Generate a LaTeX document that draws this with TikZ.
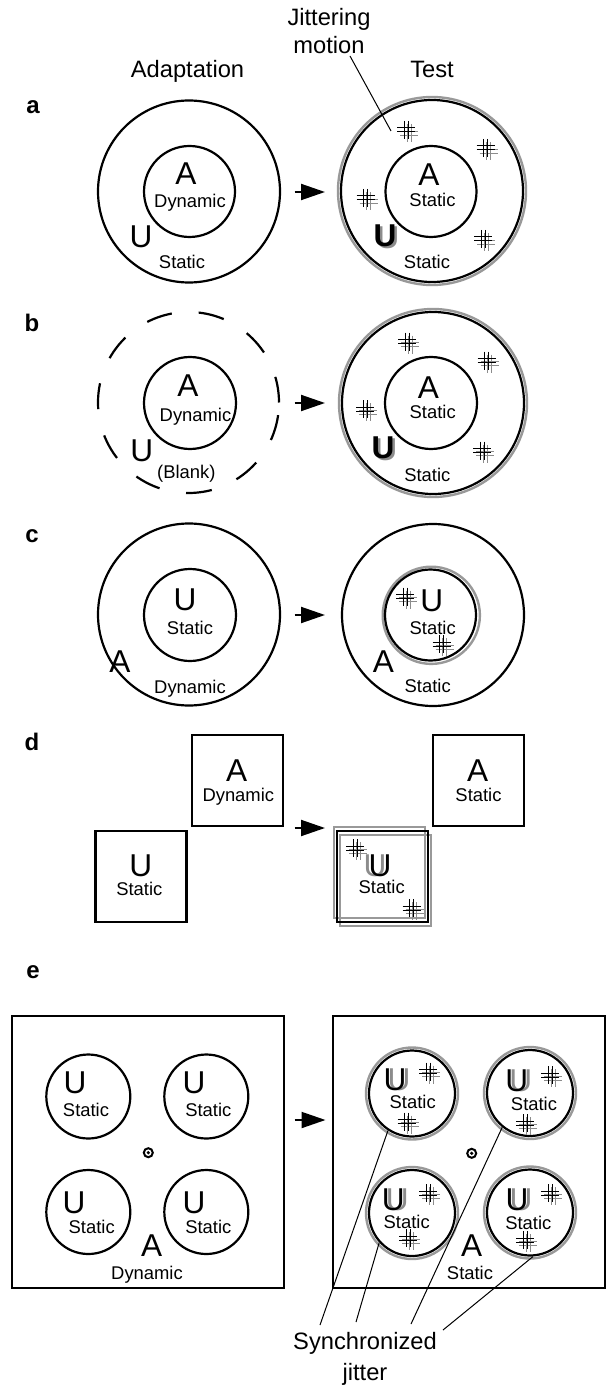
\documentclass[tikz,border=0pt]{standalone}
\usepackage{fontspec}
\setmainfont{Liberation Sans}
\usetikzlibrary{arrows.meta}

\begin{document}
\begin{tikzpicture}[
        x=0.5pt, y=-0.5pt,
        ring/.style={draw, circle, line width=1.1pt, inner sep=0pt},
        grayring/.style={draw=black!40, circle, line width=1.2pt, inner sep=0pt},
        jitter/.pic={
            \draw[black!45, line width=0.45pt] (-6,1) -- (12,1) (-6,5) -- (12,5) (1,-6) -- (1,12) (5,-6) -- (5,12);
            \draw[line width=0.5pt] (-9,-2) -- (9,-2) (-9,2) -- (9,2) (-2,-9) -- (-2,9) (2,-9) -- (2,9);
        }
        ]
    % Define styles
    \tikzstyle{dashring} = [draw, circle, line width=1.1pt, inner sep=0pt, dash pattern=on 13pt off 13.5pt]
    \tikzstyle{sqbox} = [draw, rectangle, line width=1.1pt, inner sep=0pt]
    \tikzstyle{graybox} = [draw=black!40, rectangle, line width=1.1pt, inner sep=0pt]
    \tikzstyle{headtxt} = [anchor=base, inner sep=0pt, font=\fontsize{11.85}{14}\selectfont]
    \tikzstyle{bigtxt} = [anchor=base, inner sep=0pt, font=\fontsize{15.8}{18}\selectfont]
    \tikzstyle{boldtxt} = [anchor=base, inner sep=0pt, font=\fontsize{15.8}{18}\selectfont\bfseries]
    \tikzstyle{smalltxt} = [anchor=base, inner sep=0pt, font=\fontsize{9.2}{11}\selectfont]
    \tikzstyle{panellbl} = [anchor=base, inner sep=0pt, font=\fontsize{12}{14}\selectfont\bfseries]
    \tikzstyle{thinline} = [line width=0.5pt]
    \tikzstyle{bigarrow} = [line width=1pt, -{Triangle[length=12pt, width=8pt]}]

    \useasboundingbox (0,0) rectangle (606,1385);

    % Define header nodes
    \node[headtxt] (jit1) at (329,25.5) {Jittering};
    \node[headtxt] (jit2) at (329,53.5) {motion};
    \node[headtxt] (adapt) at (187.5,77.7) {Adaptation};
    \node[headtxt] (test) at (432,77.7) {Test};

    % Define panel labels
    \node[panellbl] (la) at (33,113.3) {a};
    \node[panellbl] (lb) at (32,331.7) {b};
    \node[panellbl] (lc) at (32,542.7) {c};
    \node[panellbl] (ld) at (32,750.7) {d};
    \node[panellbl] (le) at (33,978.3) {e};

    % Panel a
    \node[ring, minimum size=91pt] (aLout) at (189,191.5) {};
    \node[ring, minimum size=45.5pt] (aLin) at (189.5,191.5) {};
    \node[bigtxt] (aLA) at (186,185) {A};
    \node[smalltxt] (aLdyn) at (190,207.3) {Dynamic};
    \node[bigtxt] (aLU) at (141,247.5) {U};
    \node[smalltxt] (aLsta) at (182,268.7) {Static};

    \node[grayring, minimum size=94pt] (aRoutg) at (432,191) {};
    \node[ring, minimum size=91pt] (aRout) at (432,191) {};
    \node[ring, minimum size=45.5pt] (aRin) at (431,191.5) {};
    \node[bigtxt] (aRA) at (429,186) {A};
    \node[smalltxt] (aRsta1) at (432.5,206.7) {Static};
    \node[boldtxt, text=black!45] (aRUg) at (387.5,249) {U};
    \node[boldtxt] (aRU) at (385,247) {U};
    \node[smalltxt] (aRsta2) at (427,268.3) {Static};
    \pic at (406,130) {jitter};
    \pic at (485.7,148) {jitter};
    \pic at (365.7,198) {jitter};
    \pic at (483,239) {jitter};

    \coordinate (jstart) at (350,56);
    \coordinate (jend) at (391,131);
    \draw[thinline] (jstart) -- (jend);

    \coordinate (aT) at (294.5,192);
    \coordinate (aH) at (325,192);
    \draw[bigarrow] (aT) -- (aH);

    % Panel b
    \node[dashring, minimum size=90.5pt] (bLout) at (188.5,402.5) {};
    \node[ring, minimum size=46pt] (bLin) at (190,403) {};
    \node[bigtxt] (bLA) at (188,396.7) {A};
    \node[smalltxt] (bLdyn) at (195.5,421.7) {Dynamic};
    \node[bigtxt] (bLU) at (141.7,461.7) {U};
    \node[smalltxt] (bLblank) at (186.3,478.7) {(Blank)};

    \node[grayring, minimum size=94pt] (bRoutg) at (433,403) {};
    \node[ring, minimum size=91pt] (bRout) at (433,403) {};
    \node[ring, minimum size=46pt] (bRin) at (431,403) {};
    \node[bigtxt] (bRA) at (428.3,398) {A};
    \node[smalltxt] (bRsta1) at (432.7,418.3) {Static};
    \node[boldtxt, text=black!45] (bRUg) at (385.5,460) {U};
    \node[boldtxt] (bRU) at (383,458) {U};
    \node[smalltxt] (bRsta2) at (427.3,481) {Static};
    \pic at (407.3,341.7) {jitter};
    \pic at (486.7,360.7) {jitter};
    \pic at (365,409.3) {jitter};
    \pic at (482.3,450.7) {jitter};

    \coordinate (bT) at (294.5,403);
    \coordinate (bH) at (325,403);
    \draw[bigarrow] (bT) -- (bH);

    % Panel c
    \node[ring, minimum size=91pt] (cLout) at (189,614.5) {};
    \node[ring, minimum size=46pt] (cLin) at (190,615) {};
    \node[bigtxt] (cLU) at (185,610) {U};
    \node[smalltxt] (cLsta) at (190,634) {Static};
    \node[bigtxt] (cLA) at (120,672) {A};
    \node[smalltxt] (cLdyn) at (190,693) {Dynamic};

    \node[ring, minimum size=91pt] (cRout) at (433,615) {};
    \node[grayring, minimum size=48.6pt] (cRing) at (431.3,615.3) {};
    \node[ring, minimum size=45.5pt] (cRin) at (430.5,615) {};
    \node[bigtxt] (cRU) at (431.7,611.7) {U};
    \node[smalltxt] (cRsta1) at (432.7,634.3) {Static};
    \node[bigtxt] (cRA) at (383.3,672.7) {A};
    \node[smalltxt] (cRsta2) at (427.7,692.7) {Static};
    \pic at (405,596.7) {jitter};
    \pic at (441.7,644) {jitter};

    \coordinate (cT) at (294.5,615);
    \coordinate (cH) at (325,615);
    \draw[bigarrow] (cT) -- (cH);

    % Panel d
    \node[sqbox, minimum size=45.5pt] (dLa) at (237.5,780.5) {};
    \node[bigtxt] (dLA) at (236.7,781.7) {A};
    \node[smalltxt] (dLdyn) at (238.3,801.7) {Dynamic};
    \node[sqbox, minimum size=45.5pt] (dLu) at (141,876.5) {};
    \node[bigtxt] (dLU) at (140.7,876.7) {U};
    \node[smalltxt] (dLsta) at (139.3,895) {Static};

    \node[sqbox, minimum size=45.5pt] (dRa) at (478.5,780.5) {};
    \node[bigtxt] (dRA) at (477.7,781.7) {A};
    \node[smalltxt] (dRsta1) at (478.5,801.7) {Static};
    \node[graybox, minimum size=45.5pt] (dRug1) at (379.5,872.5) {};
    \node[graybox, minimum size=45.5pt] (dRug2) at (385.5,880.5) {};
    \node[sqbox, minimum size=45.5pt] (dRu) at (382.5,876.5) {};
    \node[bigtxt, text=black!45] (dRUg) at (375,876.7) {U};
    \node[bigtxt] (dRU) at (380,876.7) {U};
    \node[smalltxt] (dRsta2) at (381.7,893.3) {Static};
    \pic at (355,848.3) {jitter};
    \pic at (411.7,908.3) {jitter};

    \coordinate (dT) at (294.5,828);
    \coordinate (dH) at (325,828);
    \draw[bigarrow] (dT) -- (dH);

    % Panel e, adaptation
    \node[sqbox, minimum size=136pt] (eL) at (148,1152.3) {};
    \node[ring, minimum size=42pt] (eLtl) at (88.3,1096.5) {};
    \node[ring, minimum size=42pt] (eLtr) at (206.3,1096.5) {};
    \node[ring, minimum size=42pt] (eLbl) at (88.3,1212) {};
    \node[ring, minimum size=42pt] (eLbr) at (206.3,1212) {};
    \node[bigtxt] (eLtlU) at (75,1093.3) {U};
    \node[smalltxt] (eLtls) at (86,1116.7) {Static};
    \node[bigtxt] (eLtrU) at (194,1093.3) {U};
    \node[smalltxt] (eLtrs) at (208.3,1116.7) {Static};
    \node[bigtxt] (eLblU) at (74,1213.3) {U};
    \node[smalltxt] (eLbls) at (91.7,1233.3) {Static};
    \node[bigtxt] (eLbrU) at (194,1213.3) {U};
    \node[smalltxt] (eLbrs) at (208.3,1233.3) {Static};
    \node[draw, circle, line width=1pt, inner sep=0pt, minimum size=4.5pt] (eLfix) at (148.3,1152.7) {};
    \fill (eLfix.center) circle (1.8);
    \node[bigtxt] (eLA) at (151.7,1256.7) {A};
    \node[smalltxt] (eLdyn) at (147,1279) {Dynamic};

    \coordinate (eT) at (294.5,1120);
    \coordinate (eH) at (325.5,1120);
    \draw[bigarrow] (eT) -- (eH);

    % Panel e, test
    \node[sqbox, minimum size=136pt] (eR) at (468.7,1151.7) {};
    \node[grayring, minimum size=46pt] (eRtlg) at (412,1093.5) {};
    \node[grayring, minimum size=46pt] (eRtrg) at (530,1093) {};
    \node[grayring, minimum size=46pt] (eRblg) at (412,1213) {};
    \node[grayring, minimum size=46pt] (eRbrg) at (530,1212.5) {};
    \node[ring, minimum size=43pt] (eRtl) at (412,1093.5) {};
    \node[ring, minimum size=43pt] (eRtr) at (530,1093) {};
    \node[ring, minimum size=43pt] (eRbl) at (412,1213) {};
    \node[ring, minimum size=43pt] (eRbr) at (530,1212.5) {};
    \node[bigtxt, text=black!45] (eRtlUg) at (399,1090) {U};
    \node[bigtxt] (eRtlU) at (395,1090) {U};
    \node[smalltxt] (eRtls) at (412.7,1108.3) {Static};
    \node[bigtxt, text=black!45] (eRtrUg) at (520.7,1091.7) {U};
    \node[bigtxt] (eRtrU) at (516.7,1091.7) {U};
    \node[smalltxt] (eRtrs) at (534,1110) {Static};
    \node[bigtxt, text=black!45] (eRblUg) at (397.3,1210) {U};
    \node[bigtxt] (eRblU) at (393.3,1210) {U};
    \node[smalltxt] (eRbls) at (406.7,1228.3) {Static};
    \node[bigtxt, text=black!45] (eRbrUg) at (521,1210) {U};
    \node[bigtxt] (eRbrU) at (517,1210) {U};
    \node[smalltxt] (eRbrs) at (528.3,1229.3) {Static};
    \pic at (428.3,1071.7) {jitter};
    \pic at (406.7,1121.7) {jitter};
    \pic at (550,1075) {jitter};
    \pic at (525,1123.3) {jitter};
    \pic at (428.3,1193.3) {jitter};
    \pic at (408.3,1238.3) {jitter};
    \pic at (550,1193.3) {jitter};
    \pic at (525,1240) {jitter};
    \node[draw, circle, line width=1pt, inner sep=0pt, minimum size=4.5pt] (eRfix) at (471.7,1153.3) {};
    \fill (eRfix.center) circle (1.8);
    \node[bigtxt] (eRA) at (471.7,1256.7) {A};
    \node[smalltxt] (eRsta) at (470,1279.3) {Static};

    % Synchronized jitter label and its leaders
    \node[headtxt] (sync1) at (365,1349.3) {Synchronized};
    \node[headtxt] (sync2) at (365,1380) {jitter};
    \coordinate (s1) at (320,1325);
    \coordinate (s2) at (356,1322);
    \coordinate (s3) at (411,1324);
    \coordinate (s4) at (443,1330);
    \draw[thinline] (eRtl.237) -- (s1);
    \draw[thinline] (eRbl.222) -- (s2);
    \draw[thinline] (eRtr.231) -- (s3);
    \draw[thinline] (eRbr.274) -- (s4);

\end{tikzpicture}
\end{document}
